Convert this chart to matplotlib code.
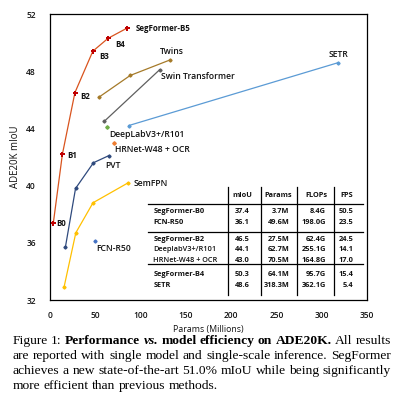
import matplotlib
matplotlib.use("Agg")
import matplotlib.pyplot as plt
from matplotlib.lines import Line2D

# ---------------- data ----------------
seg_x = [3.7, 13.7, 27.5, 47.3, 64.1, 84.7]
seg_y = [37.4, 42.2, 46.5, 49.4, 50.3, 51.0]
seg_labels = ["B0", "B1", "B2", "B3", "B4", "SegFormer-B5"]

twins_x = [54.4, 88.5, 133.0]
twins_y = [46.2, 47.7, 48.8]

swin_x = [60.0, 121.0]
swin_y = [44.5, 48.1]

deeplab_x = [62.7]
deeplab_y = [44.1]

hrnet_x = [70.5]
hrnet_y = [43.0]

setr_x = [87.0, 318.3]
setr_y = [44.2, 48.6]

pvt_x = [17.0, 28.2, 48.0, 65.1]
pvt_y = [35.7, 39.8, 41.6, 42.1]

semfpn_x = [15.5, 28.5, 47.5, 86.4]
semfpn_y = [32.9, 36.7, 38.8, 40.2]

fcn_x = [49.6]
fcn_y = [36.1]

xticks = [0, 50, 100, 150, 200, 250, 300, 350]
yticks = [32, 36, 40, 44, 48, 52]

tbl_header = ["mIoU", "Params", "FLOPs", "FPS"]
tbl_names = ["SegFormer-B0", "FCN-R50", "SegFormer-B2", "DeeplabV3+/R101",
             "HRNet-W48 + OCR", "SegFormer-B4", "SETR"]
tbl_miou = ["37.4", "36.1", "46.5", "44.1", "43.0", "50.3", "48.6"]
tbl_params = ["3.7M", "49.6M", "27.5M", "62.7M", "70.5M", "64.1M", "318.3M"]
tbl_flops = ["8.4G", "198.0G", "62.4G", "255.1G", "164.8G", "95.7G", "362.1G"]
tbl_fps = ["50.5", "23.5", "24.5", "14.1", "17.0", "15.4", "5.4"]
tbl_weight = ['bold', 'bold', 'bold', 'semibold', 'semibold', 'bold', 'bold']

# ---------------- figure ----------------
W = H = 393
DPI = 100
plt.rcParams['font.family'] = ['Open Sans', 'DejaVu Sans']
fig = plt.figure(figsize=(W / DPI, H / DPI), dpi=DPI)
SEMI = 'semibold'
TXT = "#111111"

def fx(px):
    return px / W

def fy(py):
    return 1 - py / H

PT = 72.0 / DPI  # points per pixel

ax_l, ax_r, ax_t, ax_b = 50, 367, 14, 300
ax = fig.add_axes([fx(ax_l), fy(ax_b), (ax_r - ax_l) / W, (ax_b - ax_t) / H])
ax.set_xlim(0, 350)
ax.set_ylim(32, 52)
for s in ax.spines.values():
    s.set_linewidth(0.9)
    s.set_color("black")
ax.set_xticks(xticks)
ax.set_yticks(yticks)
ax.tick_params(length=0, labelsize=6.0, colors=TXT)
ax.tick_params(axis='y', pad=10)
ax.tick_params(axis='x', pad=8)
for lab in ax.get_xticklabels() + ax.get_yticklabels():
    lab.set_fontweight(SEMI)
ax.set_xlabel("Params (Millions)", fontsize=6.3, labelpad=3.5, color=TXT)
ax.set_ylabel("ADE20K mIoU", fontsize=6.9, labelpad=4, color=TXT)

lw = 0.9
ax.plot(semfpn_x, semfpn_y, '-D', color="#ffc000", lw=lw, ms=1.6, zorder=3)
ax.plot(pvt_x, pvt_y, '-D', color="#2f4a7d", lw=lw, ms=1.6, zorder=3)
ax.plot(setr_x, setr_y, '-D', color="#5b9bd5", lw=lw, ms=1.6, zorder=3)
ax.plot(swin_x, swin_y, '-D', color="#5f5f5f", lw=lw, ms=1.6, zorder=3)
ax.plot(twins_x, twins_y, '-D', color="#a57a29", lw=lw, ms=1.6, zorder=3)
ax.plot(deeplab_x, deeplab_y, 'D', color="#70ad47", ms=1.8, zorder=3)
ax.plot(hrnet_x, hrnet_y, 'D', color="#ed7d31", ms=1.8, zorder=3)
ax.plot(fcn_x, fcn_y, 'D', color="#4472c4", ms=1.6, zorder=3)
ax.plot(seg_x, seg_y, '-', color="#d9541e", lw=lw, zorder=4)
ax.plot(seg_x, seg_y, 'P', color="#c00000", ms=3.6, mew=0, zorder=5)

def lbl(text, x, y, dx, dy, weight=SEMI, size=6.2):
    ax.annotate(text, xy=(x, y), xytext=(dx * PT, -dy * PT), textcoords='offset points',
                ha='left', va='center', fontsize=size, color=TXT, fontweight=weight)

seg_off = [(3.3, 1), (5, 1), (5, 3.6), (6, 5), (7, 6), (9, 0)]
for t, x, y, (dx, dy) in zip(seg_labels, seg_x, seg_y, seg_off):
    lbl(t, x, y, dx, dy, weight='bold', size=5.7)
lbl("Twins", twins_x[-1], twins_y[-1], -10.7, -8)
lbl("Swin Transformer", swin_x[-1], swin_y[-1], 1.7, 6.7)
lbl("DeepLabV3+/R101", deeplab_x[0], deeplab_y[0], 2, 7.3)
lbl("HRNet-W48 + OCR", hrnet_x[0], hrnet_y[0], 0.7, 7.0)
lbl("PVT", pvt_x[-1], pvt_y[-1], -3.3, 9.7)
lbl("SemFPN", semfpn_x[-1], semfpn_y[-1], 5.3, 1)
lbl("FCN-R50", fcn_x[0], fcn_y[0], 1.7, 7.4)
lbl("SETR", setr_x[-1], setr_y[-1], -10, -8.3)

# ---------------- table ----------------
tsize = 5.3
for xpx in [227.7, 261.0, 297.3, 334.3]:
    fig.add_artist(Line2D([fx(xpx), fx(xpx)], [fy(187), fy(295)], color="black", lw=0.9))
for ypx in [204, 232, 263.5]:
    fig.add_artist(Line2D([fx(148.3), fx(363)], [fy(ypx), fy(ypx)], color="black", lw=0.9))

hdr_x = [242.5, 278, 316, 346.7]
for t, xpx in zip(tbl_header, hdr_x):
    fig.text(fx(xpx), fy(195.7), t, ha='center', va='center', fontsize=tsize,
             fontweight='bold', color=TXT)
row_y = [211.7, 222.3, 239, 249.3, 260, 275, 285.3]
for i, ypx in enumerate(row_y):
    fig.text(fx(153.3), fy(ypx), tbl_names[i], ha='left', va='center', fontsize=tsize,
             fontweight=tbl_weight[i], color=TXT)
    fig.text(fx(242.5), fy(ypx), tbl_miou[i], ha='center', va='center', fontsize=tsize,
             fontweight='bold', color=TXT)
    fig.text(fx(289.3), fy(ypx), tbl_params[i], ha='right', va='center', fontsize=tsize,
             fontweight='bold', color=TXT)
    fig.text(fx(326), fy(ypx), tbl_flops[i], ha='right', va='center', fontsize=tsize,
             fontweight='bold', color=TXT)
    fig.text(fx(353.3), fy(ypx), tbl_fps[i], ha='right', va='center', fontsize=tsize,
             fontweight='bold', color=TXT)

# ---------------- caption (justified) ----------------
cap_lines = [
    [("Figure", "n"), ("1:", "n"), ("Performance", "b"), ("vs.", "bi"), ("model", "b"),
     ("efficiency", "b"), ("on", "b"), ("ADE20K.", "b"), ("All", "n"), ("results", "n")],
    [(w, "n") for w in "are reported with single model and single-scale inference. SegFormer".split()],
    [(w, "n") for w in "achieves a new state-of-the-art 51.0% mIoU while being significantly".split()],
    [(w, "n") for w in "more efficient than previous methods.".split()],
]
cap_base = [344, 359.3, 374.3, 389.3]
cap_left, cap_right = 12.7, 391
renderer = fig.canvas.get_renderer()

def make_word(word, style, xpx, ypx, size):
    return fig.text(fx(xpx), fy(ypx), word, ha='left', va='baseline', fontsize=size,
                    family=['Liberation Serif', 'DejaVu Serif'],
                    fontweight='bold' if 'b' in style else 'normal',
                    fontstyle='italic' if 'i' in style else 'normal', color="black")

# choose font size so the natural (single-spaced) lines just fit the width
base_size = 9.0
space_w = None
scales = []
for words in cap_lines[:-1]:
    arts = [make_word(w, s, 0, 0, base_size) for w, s in words]
    sp = make_word("a a", "n", 0, 0, base_size)
    sp2 = make_word("aa", "n", 0, 0, base_size)
    space_w = sp.get_window_extent(renderer).width - sp2.get_window_extent(renderer).width
    tot = sum(a.get_window_extent(renderer).width for a in arts) + space_w * (len(words) - 1)
    scales.append((cap_right - cap_left) / tot)
    for a in arts + [sp, sp2]:
        a.remove()
csize = base_size * min(scales) * 0.995
space_px = space_w * csize / base_size

for li, (words, base) in enumerate(zip(cap_lines, cap_base)):
    arts = [make_word(w, s, 0, base, csize) for w, s in words]
    widths = [a.get_window_extent(renderer).width for a in arts]
    if li < len(cap_lines) - 1:
        gap = (cap_right - cap_left - sum(widths)) / (len(words) - 1)
    else:
        gap = space_px
    xcur = cap_left
    for a, wdt in zip(arts, widths):
        a.set_x(fx(xcur))
        xcur += wdt + gap

fig.savefig("out.png", dpi=DPI)
